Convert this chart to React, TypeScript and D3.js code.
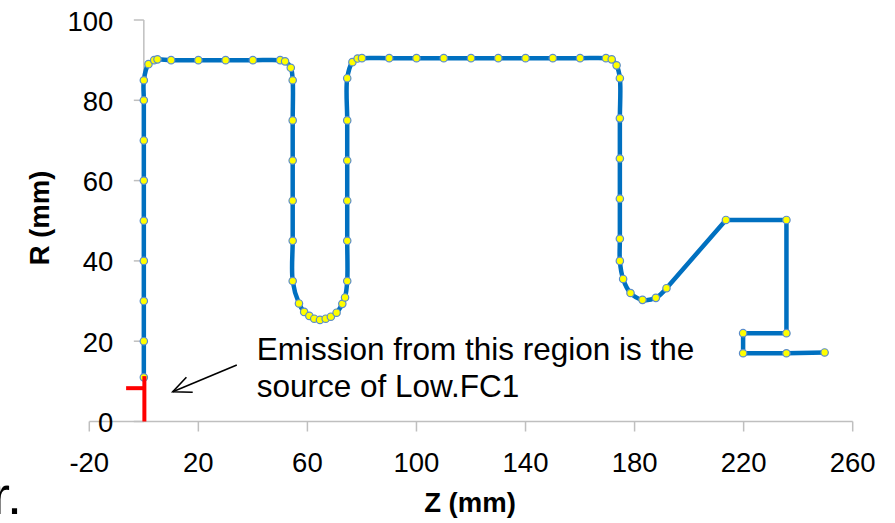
import React from "react";
import * as d3 from "d3";

// Smoothed outline (Z, R) in mm
const smoothZ = [0, 0, 0, 0, 0, 0, 0, 0, 0, 1.7, 3.8, 5, 10, 20, 30, 40, 50, 51.8, 53.9, 54.6, 54.6, 54.6, 54.6, 54.6, 54.6, 56.9, 58.8, 60.7, 62.5, 64.6, 66.7, 68.6, 70.7, 72.8, 73.8, 74.6, 74.6, 74.6, 74.6, 74.6, 74.6, 76.5, 78.4, 80, 90, 100, 110, 120, 130, 140, 150, 160, 169.5, 171.6, 173.4, 174.6, 174.6, 174.6, 174.6, 174.6, 174.6, 175.8, 178.5, 182.9, 187.8, 191.7];
const smoothR = [11, 20, 30, 40, 50, 60, 70, 80, 85, 89, 90, 90.2, 90, 90, 90, 90, 90, 89.7, 88.1, 85, 75, 65, 55, 45, 35, 29.4, 27.3, 26.3, 25.6, 25.3, 25.6, 26.1, 27.1, 29.3, 30.9, 35, 45, 55, 65, 75, 85.5, 89.5, 90.4, 90.5, 90.5, 90.5, 90.5, 90.5, 90.5, 90.5, 90.5, 90.5, 90.5, 90.2, 88.7, 85.5, 75.5, 65.5, 55.5, 45.5, 40, 35.5, 32, 30.3, 30.8, 33.2];
// Straight tail of the outline
const straightZ = [191.7, 213.5, 235.7, 235.7, 219.8, 219.8, 235.7, 249.7];
const straightR = [33.2, 50.2, 50.2, 22, 22, 17, 17, 17.2];
// Red emission region marker
const redVertZ = [0.2, 0.2];
const redVertR = [11.3, 0];
const redHorzZ = [-6.5, 0.2];
const redHorzR = [8.3, 8.3];
// Annotation
const annotationLines = ["Emission from this region is the", "source of Low.FC1"];
const annotationAt = [41.4, 15.3];
const arrowFrom = [34.1, 14.1];
const arrowTo = [10.6, 7.4];

const xTicks = [-20, 20, 60, 100, 140, 180, 220, 260];
const yTicks = [0, 20, 40, 60, 80, 100];
const xTitle = "Z (mm)";
const yTitle = "R (mm)";
const cornerText = "r.";

const W = 895;
const H = 523;

export default function App() {
  const x = d3.scaleLinear().domain([-20, 260]).range([89.3, 852.7]);
  const y = d3.scaleLinear().domain([0, 100]).range([421.5, 20]);

  const smooth = smoothZ.map((z, i) => [z, smoothR[i]] as [number, number]);
  const straight = straightZ.map((z, i) => [z, straightR[i]] as [number, number]);
  const lineSmooth = d3
    .line<[number, number]>()
    .x((d) => x(d[0]))
    .y((d) => y(d[1]))
    .curve(d3.curveCatmullRom.alpha(0.5));
  const lineStraight = d3
    .line<[number, number]>()
    .x((d) => x(d[0]))
    .y((d) => y(d[1]));

  const markers = smooth.concat(straight.slice(1));
  const font = "'Liberation Sans', Arial, sans-serif";
  const axisColor = "#bfbfbf";
  const x0 = x(0);
  const y0 = y(0);

  // arrow geometry
  const ax1 = x(arrowFrom[0]);
  const ay1 = y(arrowFrom[1]);
  const ax2 = x(arrowTo[0]);
  const ay2 = y(arrowTo[1]);
  const ang = Math.atan2(ay1 - ay2, ax1 - ax2);
  const headLen = 20;
  const spread = 0.42;
  const h1 = [ax2 + headLen * Math.cos(ang - spread), ay2 + headLen * Math.sin(ang - spread)];
  const h2 = [ax2 + headLen * Math.cos(ang + spread), ay2 + headLen * Math.sin(ang + spread)];

  return (
    <svg
      width={W}
      height={H}
      style={{ position: "absolute", left: 0, top: 0, background: "#fff" }}
    >
      {/* axes */}
      <line x1={x(-20)} x2={x(260)} y1={y0} y2={y0} stroke={axisColor} strokeWidth={1.5} />
      <line x1={x0} x2={x0} y1={y(100)} y2={y0} stroke={axisColor} strokeWidth={1.5} />
      {xTicks.map((t) => (
        <g key={"xt" + t}>
          <line x1={x(t)} x2={x(t)} y1={y0} y2={y0 + 10} stroke={axisColor} strokeWidth={1.5} />
          <text x={x(t)} y={y0 + 50.5} textAnchor="middle" fontFamily={font} fontSize={27.5} fill="#000">
            {t}
          </text>
        </g>
      ))}
      {yTicks.map((t) => (
        <g key={"yt" + t}>
          <line x1={x0 - 10} x2={x0} y1={y(t)} y2={y(t)} stroke={axisColor} strokeWidth={1.5} />
          <text x={113.3} y={y(t) + 10.5} textAnchor="end" fontFamily={font} fontSize={27.5} fill="#000">
            {t}
          </text>
        </g>
      ))}
      <text x={470} y={511.5} textAnchor="middle" fontFamily={font} fontSize={27.5} fontWeight="bold">
        {xTitle}
      </text>
      <text
        transform={`translate(48.5,218) rotate(-90)`}
        textAnchor="middle"
        fontFamily={font}
        fontSize={27.5}
        fontWeight="bold"
      >
        {yTitle}
      </text>

      {/* series */}
      <path d={lineSmooth(smooth) || ""} fill="none" stroke="#0070c0" strokeWidth={4.5} strokeLinejoin="round" />
      <path d={lineStraight(straight) || ""} fill="none" stroke="#0070c0" strokeWidth={4.5} strokeLinejoin="round" />
      {markers.map((d, i) => (
        <circle key={i} cx={x(d[0])} cy={y(d[1])} r={3.7} fill="#ffff00" stroke="#5b8ccc" strokeWidth={1.2} />
      ))}

      {/* red region */}
      <line x1={x(redVertZ[0])} x2={x(redVertZ[1])} y1={y(redVertR[0])} y2={y(redVertR[1])} stroke="#ff0000" strokeWidth={4} />
      <line x1={x(redHorzZ[0])} x2={x(redHorzZ[1])} y1={y(redHorzR[0])} y2={y(redHorzR[1])} stroke="#ff0000" strokeWidth={4} />

      {/* annotation */}
      {annotationLines.map((s, i) => (
        <text key={s} x={x(annotationAt[0])} y={y(annotationAt[1]) + i * 36.7} fontFamily={font} fontSize={31.5} fill="#000">
          {s}
        </text>
      ))}
      <line x1={ax1} y1={ay1} x2={ax2} y2={ay2} stroke="#000" strokeWidth={1.6} />
      <polyline points={`${h1[0]},${h1[1]} ${ax2},${ay2} ${h2[0]},${h2[1]}`} fill="none" stroke="#000" strokeWidth={1.6} />

      <text x={22} y={514} textAnchor="end" fontFamily={font} fontSize={54} fill="#000">
        {cornerText}
      </text>
    </svg>
  );
}
